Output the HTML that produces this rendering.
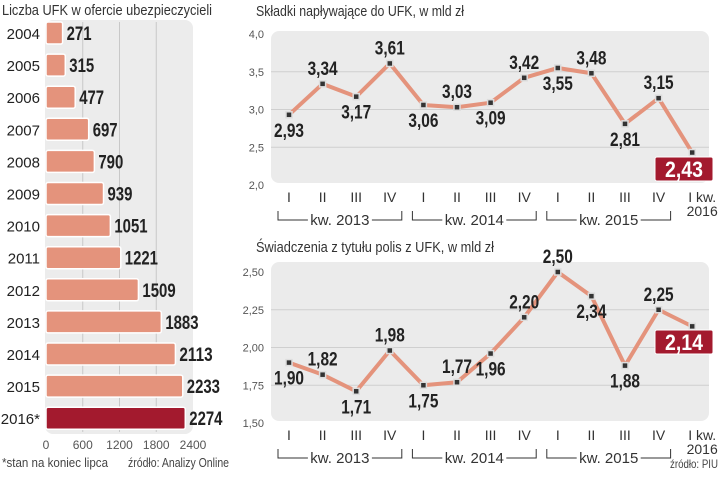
<!DOCTYPE html>
<html><head><meta charset="utf-8"><style>
body{margin:0;background:#fff;width:720px;height:473px;overflow:hidden;font-family:"Liberation Sans",sans-serif}
svg text{font-family:"Liberation Sans",sans-serif}
</style></head><body>
<svg id="c" width="720" height="473" xmlns="http://www.w3.org/2000/svg">
<text x="2" y="15" font-size="15" fill="#333" textLength="210" lengthAdjust="spacingAndGlyphs">Liczba UFK w ofercie ubezpieczycieli</text>
<rect x="45" y="20" width="148" height="414" rx="8" fill="#ececec"/>
<text x="256" y="16" font-size="15" fill="#333" textLength="208" lengthAdjust="spacingAndGlyphs">Składki napływające do UFK, w mld zł</text>
<rect x="271" y="31" width="438" height="152" rx="8" fill="#ebebeb"/>
<text x="256" y="252" font-size="15" fill="#333" textLength="238" lengthAdjust="spacingAndGlyphs">Świadczenia z tytułu polis z UFK, w mld zł</text>
<rect x="271" y="262" width="438" height="159" rx="8" fill="#ebebeb"/>
<text x="2" y="467" font-size="13" fill="#444" textLength="106" lengthAdjust="spacingAndGlyphs">*stan na koniec lipca</text>
<text x="128" y="467" font-size="13" fill="#444" textLength="101" lengthAdjust="spacingAndGlyphs">źródło: Analizy Online</text>
<text x="670" y="468" font-size="12" fill="#444" textLength="48" lengthAdjust="spacingAndGlyphs">źródło: PIU</text>
<g id="g"></g>
</svg>
<script>
const years=["2004","2005","2006","2007","2008","2009","2010","2011","2012","2013","2014","2015","2016*"];
const counts=[271,315,477,697,790,939,1051,1221,1509,1883,2113,2233,2274];
const xTicks=[0,600,1200,1800,2400];
const quarters=["I","II","III","IV","I","II","III","IV","I","II","III","IV","I kw."];
const premiums=[2.93,3.34,3.17,3.61,3.06,3.03,3.09,3.42,3.55,3.48,2.81,3.15,2.43];
const premiumTicks=[2.0,2.5,3.0,3.5,4.0];
const benefits=[1.90,1.82,1.71,1.98,1.75,1.77,1.96,2.20,2.50,2.34,1.88,2.25,2.14];
const benefitTicks=[1.50,1.75,2.00,2.25,2.50];
const topLabelPos=[1,-1,1,-1,1,-1,1,-1,1,-1,1,-1,0];
const botLabelPos=[1,-1,1,-1,1,-1,1,-1,-1,1,1,-1,0];
const NS="http://www.w3.org/2000/svg";
const g=document.getElementById('g');
function mk(t,a,txt){const e=document.createElementNS(NS,t);for(const k in a)e.setAttribute(k,a[k]);if(txt!==undefined)e.textContent=txt;g.appendChild(e);return e;}
const fmt=v=>v.toFixed(2).replace('.',',');
const bx=v=>46+v*(147/2400);
const by=i=>33+i*32.1;
xTicks.forEach(t=>{
 if(t>0&&t<2400){const l=mk('line',{x1:bx(t),x2:bx(t),y1:22,y2:432,stroke:'#c8c8c8'});
 }
 const e=mk('text',{x:bx(t),y:449,'font-size':12,fill:'#555','text-anchor':'middle'},String(t));
 
});
years.forEach((y,i)=>{
 const last=i===years.length-1;
 const r=mk('rect',{x:46,y:by(i)-11,width:bx(counts[i])-46,height:22,rx:2,fill:last?'#a31a2e':'#e4937c',stroke:'#fff','stroke-width':1.5});
 
 const t=mk('text',{x:40,y:by(i)+6,'font-size':15,fill:'#222','text-anchor':'end'},y);
 
 const s=String(counts[i]);
 const v=mk('text',{x:bx(counts[i])+4,y:by(i)+7,'font-size':19,'font-weight':'bold',fill:'#222',textLength:s.length*8.3,lengthAdjust:'spacingAndGlyphs'},s);
 
});
const qx=i=>289+i*33.6;
function lineChart(vals,ticks,y0,y1,pxTop,pxBot,pos,prefix,boxY){
 const sy=v=>pxBot-(v-y0)/(y1-y0)*(pxBot-pxTop);
 ticks.forEach((t,i)=>{
  if(i>0&&i<ticks.length-1){const l=mk('line',{x1:271,x2:709,y1:sy(t),y2:sy(t),stroke:'#cfcfcf'});
  }
  const e=mk('text',{x:264,y:sy(t)+4,'font-size':11,fill:'#555','text-anchor':'end'},ticks[0]<2?t.toFixed(2).replace('.',','):t.toFixed(1).replace('.',','));
  
 });
 const p=mk('polyline',{points:vals.map((v,i)=>qx(i)+','+sy(v)).join(' '),fill:'none',stroke:'#e4937c','stroke-width':4,'stroke-linejoin':'round'});
 
 vals.forEach((v,i)=>{
  const m=mk('rect',{x:qx(i)-3,y:sy(v)-3,width:6,height:6,fill:'#333',stroke:'#ddd','stroke-width':1.5});
  
  if(pos[i]!==0){
   const ty=pos[i]>0?sy(v)+22:sy(v)-9;
   const t=mk('text',{x:qx(i),y:ty,'font-size':19,'font-weight':'bold',fill:'#222','text-anchor':'middle',textLength:30,lengthAdjust:'spacingAndGlyphs'},fmt(v));
   
  }else{
   const b=mk('rect',{x:655,y:boxY,width:58,height:24,rx:2,fill:'#a31a2e',stroke:'#fff','stroke-width':1});
   
   const t=mk('text',{x:684,y:boxY+20,'font-size':22,'font-weight':'bold',fill:'#fff','text-anchor':'middle',textLength:38,lengthAdjust:'spacingAndGlyphs'},fmt(v));
   
  }
 });
 const qy=pxBot+17;
 quarters.forEach((q,i)=>{
  const last=i===quarters.length-1;
  const t=mk('text',{x:last?qx(i)+10:qx(i),y:qy,'font-size':14,fill:'#333','text-anchor':'middle'},q);
  
 });
 const t2=mk('text',{x:qx(12)+10,y:qy+14,'font-size':14,fill:'#333','text-anchor':'middle'},'2016');
 
 ['2013','2014','2015'].forEach((yr,k)=>{
  const a=qx(k*4)-11,b=qx(k*4+3)+12,cy=qy+18,mid=(a+b)/2;
  const br=mk('path',{d:`M${a},${cy-9}V${cy}H${mid-32}M${mid+32},${cy}H${b}V${cy-9}`,fill:'none',stroke:'#333','stroke-width':1});
  
  const t=mk('text',{x:mid,y:cy+5,'font-size':15,fill:'#333','text-anchor':'middle'},'kw. '+yr);
  
 });
}
lineChart(premiums,premiumTicks,2.0,4.0,34,185,topLabelPos,'premiums',157);
lineChart(benefits,benefitTicks,1.5,2.5,272,423,botLabelPos,'benefits',330);
</script>
</body></html>
